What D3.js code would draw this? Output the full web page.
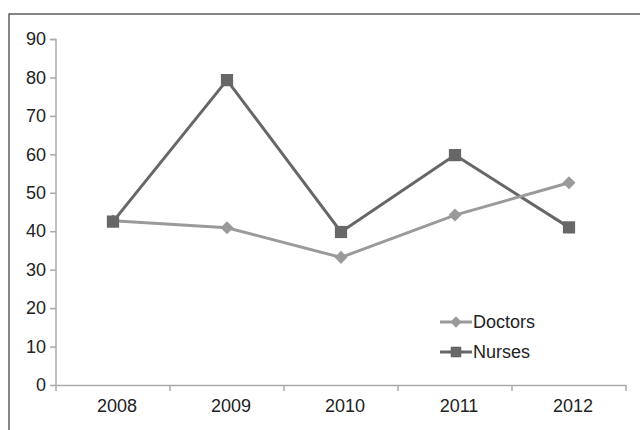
<!DOCTYPE html>
<html>
<head>
<meta charset="utf-8">
<script src="https://cdn.jsdelivr.net/npm/d3@7"></script>
<style>
	body { margin: 0; background: #fff; }
	svg { display: block; font-family: "Liberation Sans", Arial, sans-serif; }
</style>
</head>
<body>
<svg id="chart"></svg>
<script>
const years		= ['2008', '2009', '2010', '2011', '2012'];
const doctors	= [42.7, 40.9, 33.2, 44.2, 52.6];
const nurses	= [42.5, 79.3, 39.8, 59.8, 41.0];
const yTicks	= [0, 10, 20, 30, 40, 50, 60, 70, 80, 90];

let canvasWidth		= 640;
let canvasHeight	= 430;
let margin			= { top: 39, right: 14, bottom: 45, left: 56 };
let width			= canvasWidth - margin.left - margin.right;
let height			= canvasHeight - margin.top - margin.bottom;
let fontSize		= 18;

let root = d3.select('#chart')
	.attr('width', canvasWidth)
	.attr('height', canvasHeight);

// outer frame, cut off on the right and bottom like the original
root.append('rect')
	.attr('x', 9).attr('y', 14)
	.attr('width', 700).attr('height', 500)
	.attr('fill', 'none')
	.attr('stroke', '#444')
	.attr('stroke-width', 1.3);

let svg = root.append('g')
	.attr('transform', 'translate(' + margin.left + ',' + margin.top + ')');

let x = d3.scaleBand().domain(years).range([0, width]);
let y = d3.scaleLinear().domain([0, 90]).range([height, 0]);

let yAxis = svg.append('g')
	.call(d3.axisLeft(y).tickValues(yTicks).tickSize(6).tickPadding(4).tickFormat(d3.format('d')));
let xAxis = svg.append('g')
	.attr('transform', 'translate(0,' + height + ')')
	.call(d3.axisBottom(x).tickSize(0).tickPadding(14));

// band boundary ticks below the x axis
xAxis.selectAll('.bound').data(d3.range(years.length + 1)).enter()
	.append('line')
	.attr('class', 'bound')
	.attr('x1', (o) => o * x.bandwidth())
	.attr('x2', (o) => o * x.bandwidth())
	.attr('y1', 0).attr('y2', 6);

[yAxis, xAxis].forEach((a) => {
	a.selectAll('path.domain').attr('stroke', '#aaa').attr('stroke-width', 1.5);
	a.selectAll('line').attr('stroke', '#aaa').attr('stroke-width', 1.5);
	a.selectAll('text').attr('fill', '#222').attr('font-size', fontSize).attr('font-family', '"Liberation Sans", Arial, sans-serif');
});
xAxis.selectAll('.tick text').attr('dx', 4);
yAxis.selectAll('path.domain').attr('d', 'M-6,0.5H0V' + height);

let cx	= (o, i) => x(years[i]) + x.bandwidth() / 2;
let lineFunc = d3.line().x(cx).y((o) => y(o));

// diamond = square turned 45 degrees
let series = [
	{ name: 'Doctors', values: doctors, color: '#9a9a9a', size: 85, rot: 45 },
	{ name: 'Nurses', values: nurses, color: '#676767', size: 150, rot: 0 }
];

series.slice().reverse().forEach((s) => {
	svg.append('path')
		.attr('d', lineFunc(s.values))
		.attr('fill', 'none')
		.attr('stroke', s.color)
		.attr('stroke-width', 3);
});
series.forEach((s) => {
	svg.selectAll(null).data(s.values).enter()
		.append('path')
		.attr('d', d3.symbol().type(d3.symbolSquare).size(s.size))
		.attr('transform', (o, i) => 'translate(' + cx(o, i) + ',' + y(o) + ') rotate(' + s.rot + ')')
		.attr('fill', s.color);
});

// legend
let legend = root.append('g').attr('transform', 'translate(440,322)');
series.forEach((s, i) => {
	let g = legend.append('g').attr('transform', 'translate(0,' + (i * 30) + ')');
	g.append('line')
		.attr('x1', 0).attr('x2', 32)
		.attr('stroke', s.color).attr('stroke-width', 3);
	g.append('path')
		.attr('d', d3.symbol().type(d3.symbolSquare).size(s.size * 0.75))
		.attr('transform', 'translate(16,0) rotate(' + s.rot + ')')
		.attr('fill', s.color);
	g.append('text')
		.attr('x', 33).attr('y', 6)
		.attr('font-size', fontSize)
		.attr('fill', '#222')
		.text(s.name);
});
</script>
</body>
</html>
